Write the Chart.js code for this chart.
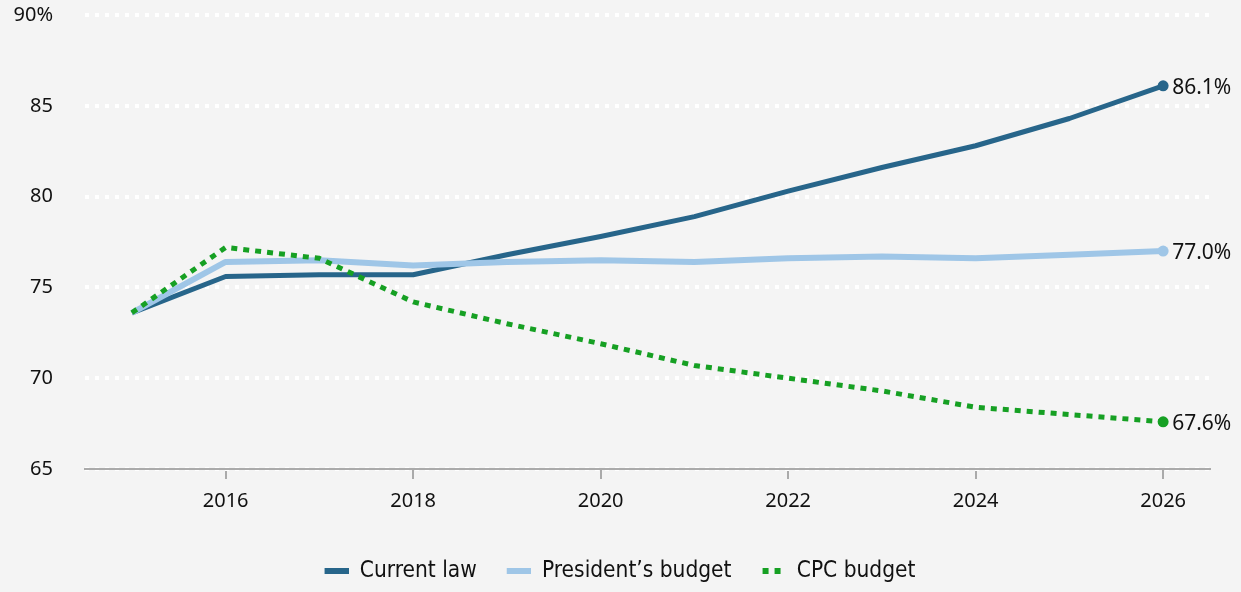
<!DOCTYPE html>
<html>
<head>
<meta charset="utf-8">
<script src="https://cdn.jsdelivr.net/npm/chart.js@4.4.1/dist/chart.umd.min.js"></script>
<style>
  html, body { margin: 0; padding: 0; background: #f4f4f4; }
  #wrap { width: 1241px; height: 592px; position: relative; }
</style>
</head>
<body>
<div id="wrap"><canvas id="debtChart"></canvas></div>
<script>
// Dados do gráfico
const years = [2015, 2016, 2017, 2018, 2019, 2020, 2021, 2022, 2023, 2024, 2025, 2026];
const currentLaw = [73.6, 75.6, 75.7, 75.7, 76.8, 77.8, 78.9, 80.3, 81.6, 82.8, 84.3, 86.1];
const presidentsBudget = [73.6, 76.4, 76.5, 76.2, 76.4, 76.5, 76.4, 76.6, 76.7, 76.6, 76.8, 77.0];
const cpcBudget = [73.6, 77.2, 76.6, 74.2, 73.0, 71.9, 70.7, 70.0, 69.3, 68.4, 68.0, 67.6];
const xTicks = [2016, 2018, 2020, 2022, 2024, 2026];
const yTicks = [65, 70, 75, 80, 85, 90];

const COLOR_CURRENT = '#27658a';
const COLOR_PRESIDENT = '#9fc6e7';
const COLOR_CPC = '#16a023';

// Amostras da legenda (margem à esquerda para espaçar os itens)
const SWATCH_GAP = 30;
const SWATCH_W = 24;
function legendSwatch(color, dotted) {
    const c = document.createElement('canvas');
    c.width = SWATCH_W + SWATCH_GAP;
    c.height = 6;
    const ctx = c.getContext('2d');
    ctx.fillStyle = color;
    if (dotted) {
        ctx.fillRect(SWATCH_GAP + 1, 0, 6, 6);
        ctx.fillRect(SWATCH_GAP + 13, 0, 6, 6);
    } else {
        ctx.fillRect(SWATCH_GAP, 0, SWATCH_W, 6);
    }
    return c;
}

function toPoints(values) {
    return values.map((v, i) => ({ x: years[i], y: v }));
}

function lastOnly(r) {
    return ctx => ctx.dataIndex === years.length - 1 ? r : 0;
}

// Rótulos no fim de cada linha
const endLabels = {
    id: 'endLabels',
    afterDatasetsDraw(chart) {
        const ctx = chart.ctx;
        ctx.save();
        ctx.font = '21px "Noto Sans", sans-serif';
        ctx.fillStyle = '#111';
        ctx.textAlign = 'left';
        ctx.textBaseline = 'middle';
        chart.data.datasets.forEach((ds, i) => {
            const meta = chart.getDatasetMeta(i);
            const pt = meta.data[meta.data.length - 1];
            const value = ds.data[ds.data.length - 1].y;
            ctx.fillText(value.toFixed(1) + '%', pt.x + 9, pt.y + 2);
        });
        ctx.restore();
    }
};

function noScalePadding(s) {
    s.paddingTop = 0;
    s.paddingBottom = 0;
    s.paddingLeft = 0;
    s.paddingRight = 0;
}

const ctx = document.getElementById('debtChart').getContext('2d');
window.debtChart = new Chart(ctx, {
    type: 'line',
    data: {
        datasets: [{
            label: 'Current law',
            data: toPoints(currentLaw),
            borderColor: COLOR_CURRENT,
            backgroundColor: COLOR_CURRENT,
            borderWidth: 5,
            pointRadius: lastOnly(5.5),
            pointBorderWidth: 0,
            order: 3,
            legendImg: legendSwatch(COLOR_CURRENT, false)
        }, {
            label: 'President\u2019s budget',
            data: toPoints(presidentsBudget),
            borderColor: COLOR_PRESIDENT,
            backgroundColor: COLOR_PRESIDENT,
            borderWidth: 6,
            pointRadius: lastOnly(5.5),
            pointBorderWidth: 0,
            order: 2,
            legendImg: legendSwatch(COLOR_PRESIDENT, false)
        }, {
            label: 'CPC budget',
            data: toPoints(cpcBudget),
            borderColor: COLOR_CPC,
            backgroundColor: COLOR_CPC,
            borderWidth: 5,
            borderDash: [6, 6],
            borderCapStyle: 'butt',
            pointRadius: lastOnly(5.5),
            pointBorderWidth: 0,
            order: 1,
            legendImg: legendSwatch(COLOR_CPC, true)
        }]
    },
    options: {
        responsive: true,
        maintainAspectRatio: false,
        animation: false,
        clip: false,
        elements: { line: { tension: 0, borderJoinStyle: 'round' } },
        layout: { padding: { top: 15, right: 31, bottom: 0, left: 0 } },
        plugins: {
            tooltip: { enabled: false },
            legend: {
                position: 'bottom',
                labels: {
                    usePointStyle: true,
                    pointStyleWidth: SWATCH_W + SWATCH_GAP,
                    padding: 0,
                    color: '#111',
                    font: { family: '"Liberation Sans Narrow", "DejaVu Sans Condensed", sans-serif', size: 22.5 },
                    generateLabels: chart => chart.data.datasets.map((ds, i) => ({
                        text: ds.label,
                        pointStyle: ds.legendImg,
                        fillStyle: ds.borderColor,
                        strokeStyle: ds.borderColor,
                        lineWidth: 0,
                        fontColor: '#111',
                        datasetIndex: i
                    }))
                }
            }
        },
        scales: {
            x: {
                type: 'linear',
                min: 2014.5,
                max: 2026.5,
                afterBuildTicks: s => { s.ticks = xTicks.map(v => ({ value: v })); },
                afterFit: s => { s.height = 90.5; noScalePadding(s); },
                grid: { drawOnChartArea: false, drawTicks: true, tickLength: 10, color: '#aaa', lineWidth: 2 },
                border: { display: true, color: '#aaa', width: 2 },
                ticks: {
                    padding: 10,
                    color: '#111',
                    font: { family: '"Noto Sans", sans-serif', size: 20 },
                    callback: v => String(v)
                }
            },
            y: {
                min: 65,
                max: 90,
                afterBuildTicks: s => { s.ticks = yTicks.map(v => ({ value: v })); },
                afterFit: s => { s.width = 85; noScalePadding(s); },
                grid: { color: '#ffffff', lineWidth: 4, drawTicks: false },
                border: { display: false, dash: [4, 6] },
                ticks: {
                    padding: 32,
                    color: '#111',
                    font: { family: '"Noto Sans", sans-serif', size: 20 },
                    callback: v => v === 90 ? '90%' : String(v)
                }
            }
        }
    },
    plugins: [endLabels]
});
</script>
</body>
</html>
